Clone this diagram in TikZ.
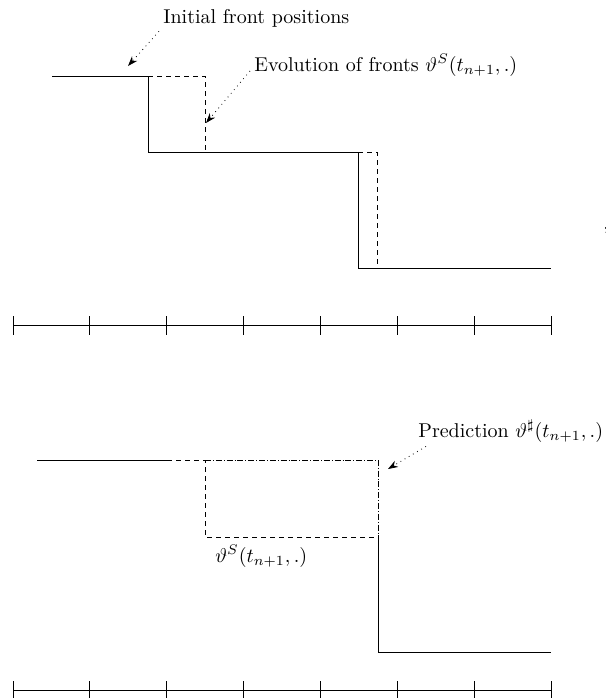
\documentclass[tikz,border=0pt]{standalone}
\usepackage{amsmath}
\usepackage{amssymb}
\usepackage{tikz}
\usetikzlibrary{arrows.meta, positioning}

\begin{document}
\begin{tikzpicture}[x=0.5pt, y=-0.5pt,
    level/.style={line width=0.5pt},
    shifted/.style={line width=0.5pt, dash pattern=on 2.5pt off 2pt},
    predicted/.style={line width=0.4pt, densely dash dot},
    pointer/.style={dotted, -{Stealth[length=5pt, width=3.5pt]}},
    lbl/.style={inner sep=2pt}]
    \useasboundingbox (0,0) rectangle (606,698);

    % Upper panel: initial fronts
    \draw[level] (52,76) -- (148,76) -- (148,152) -- (358,152) -- (358,268) -- (551,268);

    % Upper panel: evolved fronts
    \draw[shifted] (148,76) -- (205,76) -- (205,152);
    \draw[shifted] (358,152) -- (377,152) -- (377,268);

    % Labels
    \node[lbl, anchor=base west] (init) at (159,23) {Initial front positions};
    \node[lbl, anchor=base west] (evol) at (250,71) {Evolution of fronts $\vartheta^S(t_{n+1},.)$};
    \coordinate (initTip) at (128,66);
    \coordinate (evolTip) at (206,123);
    \draw[pointer] (init.south west) -- (initTip);
    \draw[pointer] (evol.base west) -- (evolTip);
    \node[inner sep=0, anchor=west] (mark) at (603,230) {,};

    % Upper axis
    \draw (13,325) -- (551,325);
    \foreach \i in {0,...,7}
        \draw ({13+\i*76.86},316) -- ({13+\i*76.86},335);

    % Lower panel: evolved fronts
    \draw[level] (37,460) -- (167,460);
    \draw[shifted] (167,460) -- (205,460) -- (205,537) -- (378,537) -- (378,652);

    % Lower panel: prediction
    \draw[predicted] (205,460) -- (378,460) -- (378,537);
    \draw[level] (378,537) -- (378,652) -- (551,652);

    % Labels
    \node[lbl, anchor=base west] (pred) at (414,437) {Prediction $\vartheta^\sharp(t_{n+1},.)$};
    \node[lbl, anchor=base west] (evolS) at (211,562) {$\vartheta^S(t_{n+1},.)$};
    \coordinate (predTip) at (388,469);
    \draw[pointer] ([xshift=6pt]pred.south west) -- (predTip);

    % Lower axis
    \draw (13,690) -- (551,690);
    \foreach \i in {0,...,7}
        \draw ({13+\i*76.86},681) -- ({13+\i*76.86},699);
\end{tikzpicture}
\end{document}
